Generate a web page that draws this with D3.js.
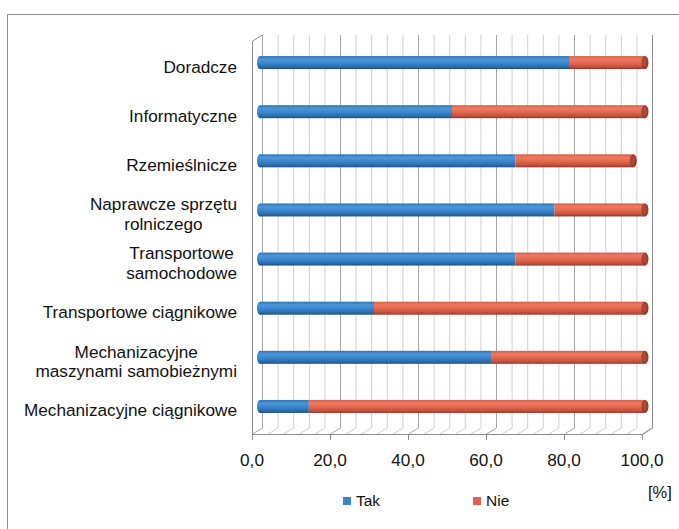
<!DOCTYPE html>
<html><head><meta charset="utf-8">
<script src="https://cdn.jsdelivr.net/npm/d3@7"></script>
<style>body{margin:0;background:#fff}svg{display:block}text{font-family:"Liberation Sans",Arial,sans-serif}</style>
</head><body>
<script>
const categories = ["Doradcze","Informatyczne","Rzemieślnicze","Naprawcze sprzętu|rolniczego","Transportowe|samochodowe","Transportowe ciągnikowe","Mechanizacyjne|maszynami samobieżnymi","Mechanizacyjne ciągnikowe"];
const tak = [80.0, 50.0, 66.3, 76.3, 66.3, 30.0, 60.0, 13.3];
const nie = [20.0, 50.0, 30.7, 23.7, 33.7, 70.0, 40.0, 86.7];
const seriesNames = ["Tak","Nie"];
const tickValues = [0,20,40,60,80,100];
const unitLabel = "[%]";

const W=679,H=529;
const svg=d3.select("body").append("svg").attr("width",W).attr("height",H);
const defs=svg.append("defs");
function grad(id,stops){const g=defs.append("linearGradient").attr("id",id).attr("x1",0).attr("y1",0).attr("x2",0).attr("y2",1);
 stops.forEach(s=>g.append("stop").attr("offset",s[0]).attr("stop-color",s[1]));}
grad("gBlue",[[0,"#2f74b5"],[0.25,"#4a96d8"],[0.55,"#3a86cc"],[0.85,"#2a6aa8"],[1,"#1f4f80"]]);
grad("gRed",[[0,"#d85e48"],[0.25,"#ee7a62"],[0.55,"#e2664f"],[0.85,"#c04f3a"],[1,"#8f3527"]]);

// frame
svg.append("rect").attr("x",7.5).attr("y",14.5).attr("width",W).attr("height",H).attr("fill","none").attr("stroke","#8c8c8c");

const dx=10, dy=-6;
const xBack=d3.scaleLinear().domain([0,100]).range([262,652]);
const xFront=v=>xBack(v)-dx;
const xBar=v=>xBack(v)-dx/2;
const wallTop=35, floorBack=428, floorFront=floorBack-dy;
const y=d3.scaleBand().domain(categories).range([38,431]);

// back wall gridlines
const grid=d3.range(0,101,4);
const g=svg.append("g");
grid.forEach(v=>{
  const major=v%20===0;
  g.append("line").attr("x1",xBack(v)+0.5).attr("x2",xBack(v)+0.5).attr("y1",wallTop).attr("y2",floorBack)
   .attr("stroke",major?"#a6a6a6":"#d0d0d0").attr("stroke-width",1);
  g.append("line").attr("x1",xBack(v)+0.5).attr("y1",floorBack).attr("x2",xFront(v)+0.5).attr("y2",floorFront)
   .attr("stroke",major?"#a6a6a6":"#d0d0d0");
});
// left side wall
g.append("path").attr("d",`M${xFront(0)+0.5},${floorFront} L${xFront(0)+0.5},${wallTop-dy} L${xBack(0)+0.5},${wallTop}`)
 .attr("fill","none").attr("stroke","#8c8c8c");
// floor front edge and right edge
g.append("path").attr("d",`M${xFront(0)+0.5},${floorFront+0.5} L${xFront(100)+0.5},${floorFront+0.5} L${xBack(100)+0.5},${floorBack} L${xBack(100)+0.5},${wallTop}`)
 .attr("fill","none").attr("stroke","#8c8c8c");
// ticks
tickValues.forEach(v=>{
  g.append("line").attr("x1",xFront(v)+0.5).attr("x2",xFront(v)+0.5).attr("y1",floorFront).attr("y2",floorFront+6).attr("stroke","#8c8c8c");
  svg.append("text").attr("x",xFront(v)).attr("y",466).attr("text-anchor","middle").attr("font-size",17.2).attr("fill","#111")
   .text(d3.format(".1f")(v).replace(".",","));
});

// bars
const bh=13;
categories.forEach((c,i)=>{
  const cy=y(c)+y.bandwidth()/2;
  const t=tak[i], n=nie[i];
  const x0=xBar(0), x1=xBar(t), x2=xBar(t+n)+1;
  const bg=svg.append("g");
  bg.append("ellipse").attr("cx",x0+3).attr("cy",cy).attr("rx",3).attr("ry",bh/2).attr("fill","url(#gBlue)");
  bg.append("rect").attr("x",x0+3).attr("y",cy-bh/2).attr("width",x1-x0-3).attr("height",bh).attr("fill","url(#gBlue)");
  bg.append("rect").attr("x",x1).attr("y",cy-bh/2).attr("width",x2-x1-3).attr("height",bh).attr("fill","url(#gRed)");
  bg.append("ellipse").attr("cx",x2-3).attr("cy",cy).attr("rx",3.5).attr("ry",bh/2).attr("fill","#9a3b2b");
  bg.append("ellipse").attr("cx",x2-3.5).attr("cy",cy-0.5).attr("rx",2).attr("ry",bh/2-2).attr("fill","#b04a36");

  const lines=c.split("|");
  const lh=19.6;
  const ty=cy+4-(lines.length-1)*lh/2;
  const fs=17.2;
  const txt=svg.append("text").attr("font-size",fs).attr("fill","#111").attr("text-anchor","middle");
  const tmp=svg.append("text").attr("font-size",fs);
  let maxW=0; lines.forEach(l=>{tmp.text(l);maxW=Math.max(maxW,tmp.node().getComputedTextLength());}); tmp.remove();
  const cx=237-maxW/2;
  lines.forEach((l,k)=>txt.append("tspan").attr("x",cx).attr("y",ty+k*lh).attr("dy","0.35em").text(l));
});

// legend
const legColors=["#3c85c8","#df6350"];
const legX=[343,473];
seriesNames.forEach((s,i)=>{
  svg.append("rect").attr("x",legX[i]).attr("y",497).attr("width",8).attr("height",8).attr("fill",legColors[i]);
  svg.append("text").attr("x",legX[i]+13).attr("y",506).attr("font-size",15.5).attr("fill","#111").text(s);
});
svg.append("text").attr("x",648).attr("y",498).attr("font-size",16.5).attr("fill","#111").text(unitLabel);
</script>
</body></html>
